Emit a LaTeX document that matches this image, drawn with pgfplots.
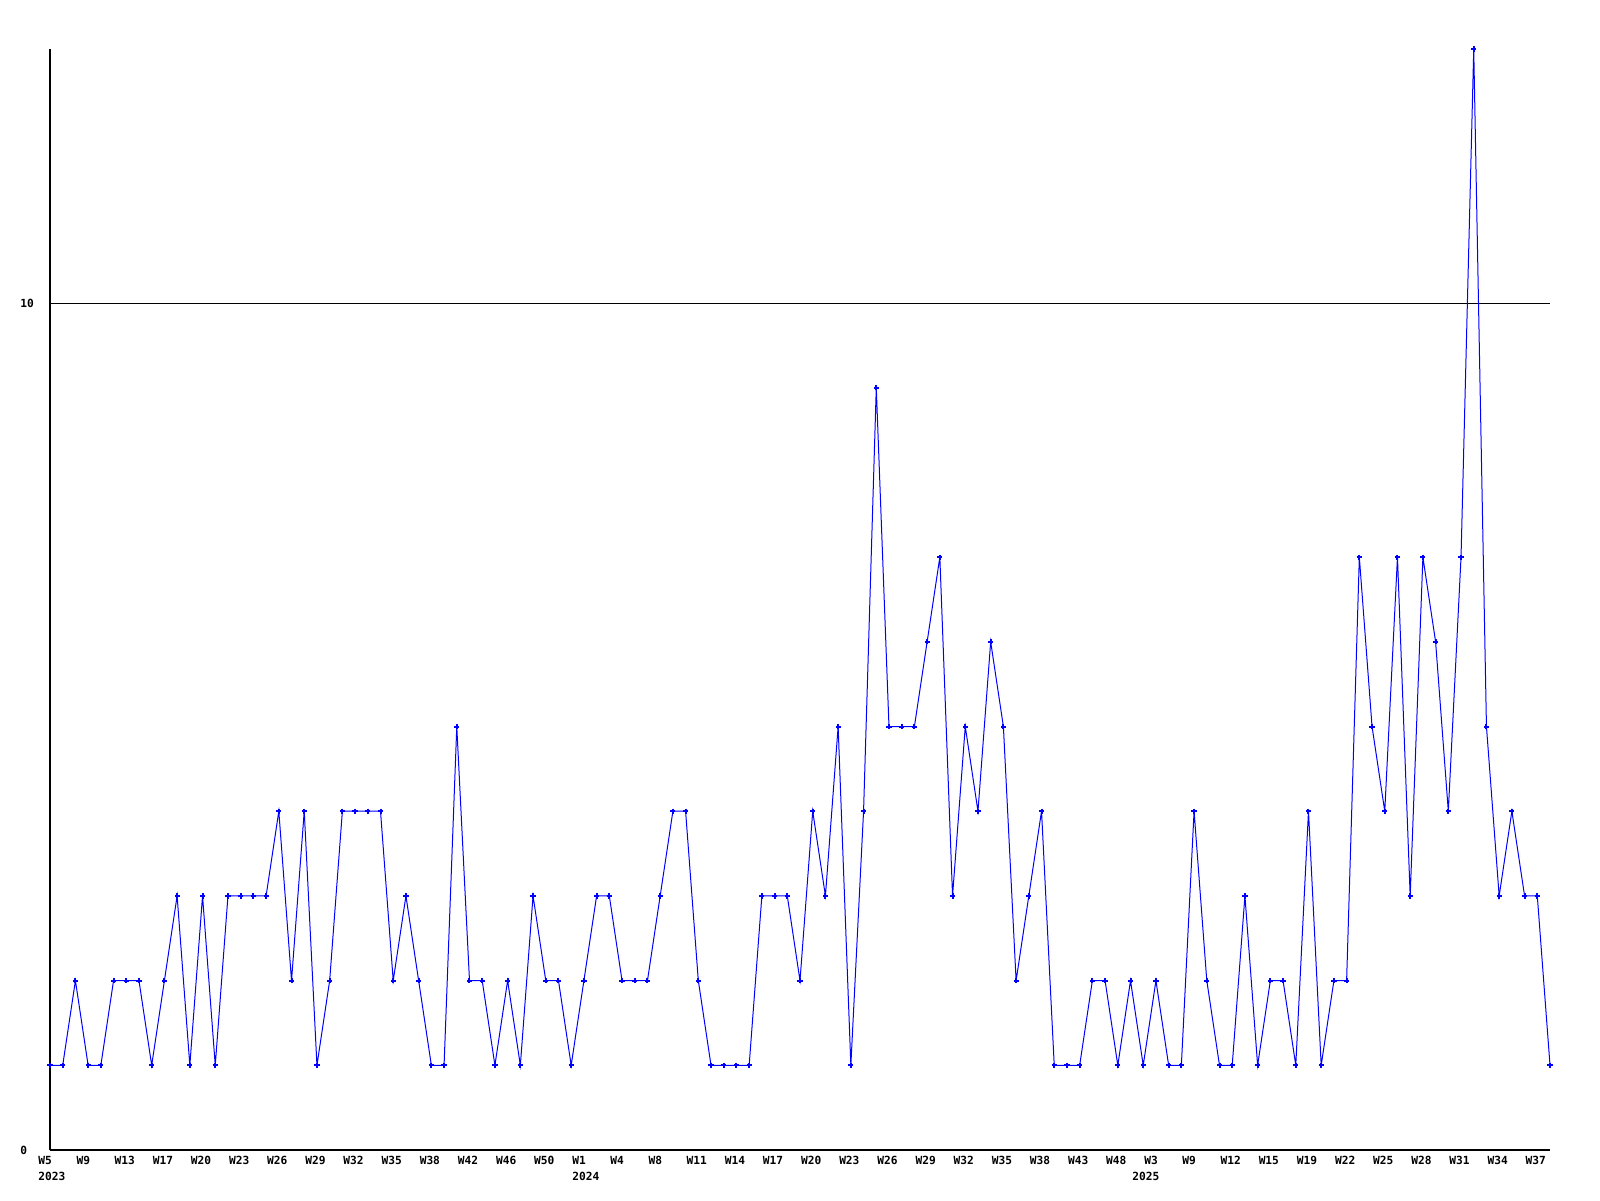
\documentclass[border=0pt]{standalone}
\usepackage{fontspec}
\setmonofont{DejaVu Sans Mono}
\usepackage{pgfplots}
\pgfplotsset{compat=1.18}
\usepackage{pgfplotstable}

% one value per week with data, in plotting order
\pgfplotstableread{
n
1
1
2
1
1
2
2
2
1
2
3
1
3
1
3
3
3
3
4
2
4
1
2
4
4
4
4
2
3
2
1
1
5
2
2
1
2
1
3
2
2
1
2
3
3
2
2
2
3
4
4
2
1
1
1
1
3
3
3
2
4
3
5
1
4
9
5
5
5
6
7
3
5
4
6
5
2
3
4
1
1
1
2
2
1
2
1
2
1
1
4
2
1
1
3
1
2
2
1
4
1
2
2
7
5
4
7
3
7
6
4
7
13
5
3
4
3
3
1
}\weekly

\begin{document}
\begin{tikzpicture}
\useasboundingbox (-25pt,-25pt) rectangle (775pt,575pt);
\begin{axis}[
    scale only axis,
    width=750pt,
    height=550.5pt,
    xmin=0, xmax=118,
    ymin=0, ymax=13,
    axis x line*=bottom,
    axis y line*=left,
    axis line style={-, black, line width=0.6pt},
    major tick length=0pt,
    ytick={0,10},
    ymajorgrids,
    grid style={black, line width=0.5pt},
    xtick={0,3,...,117},
    xticklabels={{W5\\2023},W9,W13,W17,W20,W23,W26,W29,W32,W35,W38,W42,W46,W50,
        {W1\\2024},W4,W8,W11,W14,W17,W20,W23,W26,W29,W32,W35,W38,W43,W48,
        {W3\\\hspace*{-6pt}2025},W9,W12,W15,W19,W22,W25,W28,W31,W34,W37},
    tick label style={font=\ttfamily\bfseries\fontsize{5.6}{8}\selectfont},
    xticklabel style={anchor=north west, align=left, inner sep=0pt, xshift=-6pt, yshift=-3pt},
    yticklabel style={anchor=west, inner sep=0pt, xshift=-15pt},
    /pgf/number format/assume math mode=true,
    clip=false,
]
\addplot[blue, line width=0.5pt, mark=+, mark size=1.3pt,
    mark options={line width=1pt}]
    table[x expr=\coordindex, y=n] {\weekly};
\end{axis}
\end{tikzpicture}
\end{document}
